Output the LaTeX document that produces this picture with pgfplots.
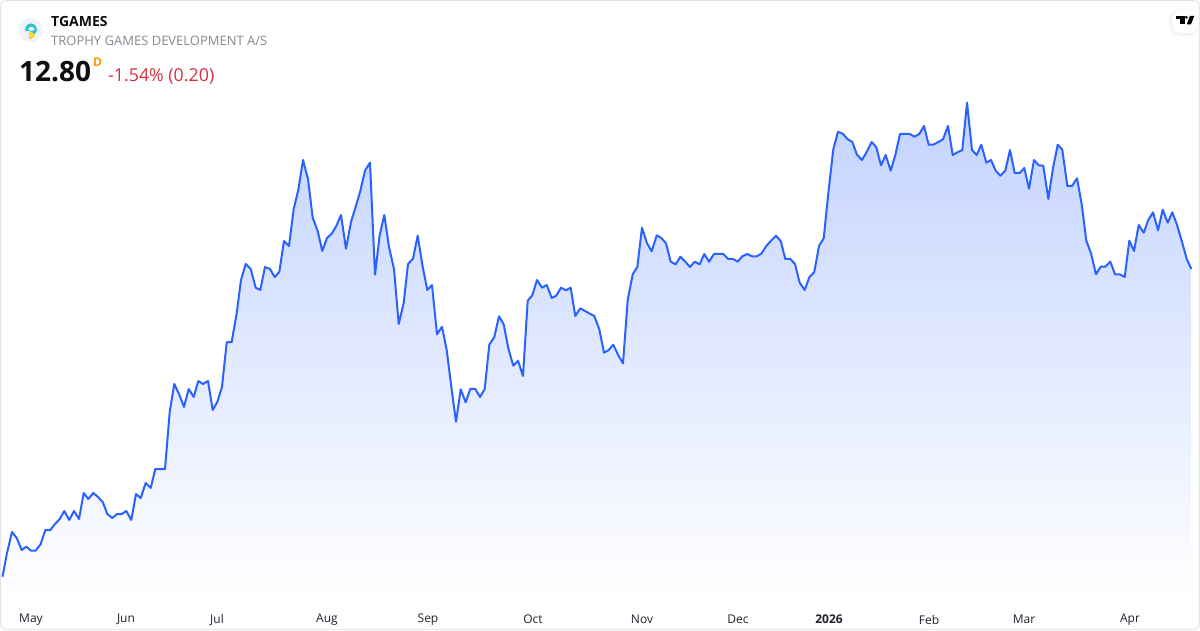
\documentclass[border=0pt]{standalone}
\usepackage{pgfplots}
\pgfplotsset{compat=1.18}
\usepackage{pgfplotstable}
\usepgfplotslibrary{fillbetween}
\usepackage{fontspec}
\setmainfont{Open Sans}
\definecolor{tvblue}{HTML}{2962FF}
\definecolor{areatop}{HTML}{C3D3FF}
\definecolor{areabot}{HTML}{FFFFFF}
\definecolor{cardline}{HTML}{E6E6E8}
\definecolor{subgrey}{HTML}{868993}
\definecolor{tickgrey}{HTML}{1E222D}
\definecolor{pricetxt}{HTML}{0F0F0F}
\definecolor{redtxt}{HTML}{D32F3F}
\definecolor{orangetxt}{HTML}{FF9800}
\definecolor{logobg}{HTML}{F0F3FA}
\definecolor{logoteal}{HTML}{2BC4C8}
\definecolor{logoyellow}{HTML}{FDD835}
\pgfplotstableread{
x y
2.5 53.3
7 77
12 98
16.7 92
21.7 80
26.3 83.3
31 79.3
35.7 79.3
40.7 86
45.3 100
50.3 100
55 106
59.7 111
64.3 119
69.3 110
74 119
79 111
83.7 137
88.3 131
93.3 137
98 133
102.7 128
107.3 116
112.3 112
117 116
121.7 116
126.3 119
131.3 110
136 136
140.7 132
145.7 147
150.7 142
155.3 161
160 161
165 161
169.7 218
174.3 246
179 236
184 223
188.7 241
193.7 233
198.3 249
203 246
208 249
212.7 220
217.3 228
222 243
226.7 287.7
231.7 288
236.7 317
241 350
245.7 366
250.7 361
255.7 342.3
260.3 340
265 363
270 361
274.7 353
279.3 358
284 389
289 384
293.7 421
298.3 440
303 470
308 451
312.7 412.3
317.7 399
322.3 379
327 392
331.7 396.3
336.3 404
341 415
346 381.3
351 408
355.7 423.3
360.3 439
365 459.3
370 467.3
375 355.3
379.7 395
384.3 415
389 383
394 361
398.7 306
403.7 327
408 366
413 371.3
417.7 394.3
422.7 363.3
427.3 340
432 345
437 295.7
442 303.3
446.7 280
451.3 243.3
456 208.3
460.7 240.7
465.7 227.7
470.3 241
475.3 241
480 233
484.7 241
489.3 285.3
494.3 293
499 313.7
503.7 305.7
508.3 281.7
513.3 264.3
518 269.3
523 254
527.7 329.3
532.3 334.7
537 350
542 342.3
546.7 345
551.7 332
556.3 334.3
561 342.3
566 339.7
570.7 342.3
575.3 314
580.3 321.7
585 319
589.7 316.3
594.3 314
599.3 300.7
604 277.3
608.7 280
613.3 285.3
618.3 274.7
623 266.7
627.7 330
632.7 355.7
637.3 363
642 402.3
647 386.7
651.7 378.7
656.7 394.7
661.3 392
666 386.7
670.7 368.3
675.7 365.7
680.3 373.3
685.3 368.3
690 363
694.7 368.3
699.7 365.7
704.3 376
709 368.3
714 376
718.7 376
723.3 376
728.3 371
733 371
737.7 368.3
742.3 373.7
747.3 376
752 373.7
756.7 373.7
761.3 376.3
766.3 384
771 389.3
776 394.3
780.7 389
785.3 371
790.3 371
795 366
799.7 347.3
804.7 340
809.3 352.7
814.3 358
819 384
823.7 391.7
828.3 436.7
833.3 480.7
838 498.3
843 496
847.7 490.7
852.3 488
857 475.3
862 470
866.7 478
871.7 488
876.3 482.7
881 464.7
885.7 475
890.7 459.3
895.3 475
900 496
905 496
909.7 496
914.3 493.3
919.3 496
924 504
928.7 485.3
933.3 485.3
938.3 488
943 490.7
948 504
952.7 475
957.5 477.7
962.3 480
967 527.3
972 480
976.7 475
981.3 485.3
986.3 467.3
991 470
995.7 459.3
1000.3 454.3
1005.3 459.3
1010 480
1014.7 457
1019.7 457
1024.3 462
1029 441.3
1034 470
1038.7 464.7
1043.3 464.3
1048.3 431
1053 462
1057.7 485.3
1062.3 480.3
1067.3 444
1072 444
1077 451.7
1081.7 425.7
1086.3 389.3
1091 376.7
1096 355.7
1100.7 363.3
1105.3 363.3
1110.3 368.3
1115 355.7
1119.7 355.7
1124.7 353
1129.3 389.3
1134 379
1138.7 405
1143.7 397.3
1148.3 410
1153 417.7
1158 399.7
1162.7 420.3
1167.7 407.3
1172.3 417.7
1177 405
1181.7 389.3
1186.7 371
1191.3 361
}\pricedata
\begin{document}
\begin{tikzpicture}
\begin{axis}[
  scale only axis, width=1200pt, height=630pt,
  xmin=0, xmax=1200, ymin=0, ymax=630,
  axis line style={draw=none},
  ytick=\empty,
  xtick={31,126,217,327,428,533,642,738,829,929,1024,1130},
  xticklabels={May,Jun,Jul,Aug,Sep,Oct,Nov,Dec,\textbf{2026},Feb,Mar,Apr},
  tick style={draw=none},
  xticklabel style={font=\fontsize{12}{14}\selectfont, text=tickgrey, anchor=center, yshift=10.3pt},
  clip=false,
  axis on top=false,
]
\addplot[draw=none, name path=pricepath, forget plot] table[x=x,y=y] {\pricedata};
\addplot[draw=none, name path=basepath, forget plot] coordinates {(2.5,30) (1191.3,30)};
\addplot[draw=none, top color=areatop, bottom color=areabot, forget plot] fill between[of=pricepath and basepath];
\fill[white] (axis cs:0,27) rectangle (axis cs:1194,31);
\fill[white] (axis cs:1191.3,27) rectangle (axis cs:1194,362);
\draw[cardline, line width=1.2pt, rounded corners=6pt] (axis cs:0.6,0.6) rectangle (axis cs:1199.4,629.4);
\addplot[color=tvblue, line width=2pt, line join=round, forget plot] table[x=x,y=y] {\pricedata};
% header
\fill[logobg] (axis cs:30.5,600) circle[radius=12pt];
\fill[logoteal] (axis cs:31,600.5) ellipse[x radius=5.8pt, y radius=6pt];
\fill[logobg] (axis cs:31.5,601) ellipse[x radius=3pt, y radius=2pt];
\fill[logobg] (axis cs:26,594) rectangle (axis cs:30,598.5);
\fill[logoyellow] (axis cs:29,598) -- (axis cs:32,598) -- (axis cs:35,594.5) -- (axis cs:32,591) -- (axis cs:29,591) -- cycle;
\node[anchor=base west, inner sep=0, font=\fontsize{14}{16}\selectfont\bfseries, text=pricetxt] at (axis cs:51,603.2) {TGAMES};
\node[anchor=base west, inner sep=0, font=\fontsize{13}{15}\selectfont, text=subgrey] at (axis cs:51,584.8) {TROPHY GAMES DEVELOPMENT A/S};
\node[anchor=base west, inner sep=0, font=\fontsize{28}{32}\selectfont\bfseries, text=pricetxt] at (axis cs:19,548) {12.80};
\node[anchor=base west, inner sep=0, font=\fontsize{12}{14}\selectfont\bfseries, text=orangetxt] at (axis cs:93,563.5) {D};
\node[anchor=base west, inner sep=0, font=\fontsize{17.8}{20}\selectfont, text=redtxt] at (axis cs:108,548) {-1.54\% (0.20)};
% TV badge
\fill[black, opacity=0.02, rounded corners=12pt] (axis cs:1168,593) rectangle (axis cs:1199.4,622);
\fill[black, opacity=0.03, rounded corners=11pt] (axis cs:1170,595) rectangle (axis cs:1199.4,620);
\fill[white, rounded corners=10pt] (axis cs:1172,597) rectangle (axis cs:1199,620);
\fill[black] (axis cs:1176,614.2) rectangle (axis cs:1185,611);
\fill[black] (axis cs:1180,611) rectangle (axis cs:1185,605.7);
\fill[black] (axis cs:1186.3,612.7) circle[radius=1.5pt];
\fill[black] (axis cs:1190,614.2) -- (axis cs:1194.3,614.2) -- (axis cs:1191,605.7) -- (axis cs:1186.8,605.7) -- cycle;
\end{axis}
\end{tikzpicture}
\end{document}
